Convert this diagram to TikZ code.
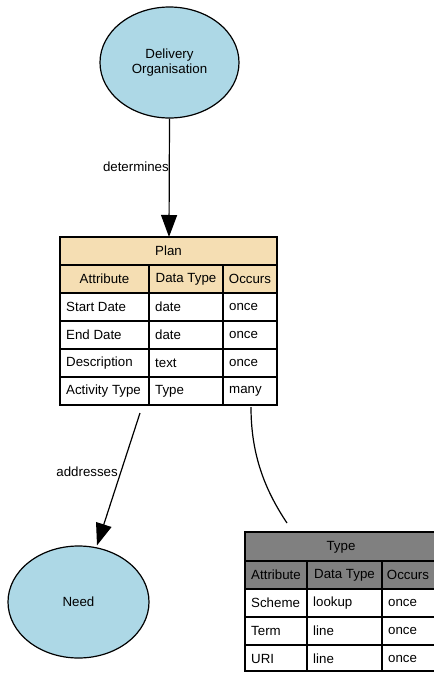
\documentclass[tikz,border=0pt]{standalone}
\usepackage{fontspec}
\setmainfont{Liberation Sans}
\usetikzlibrary{arrows.meta,shapes.geometric}
\definecolor{ellblue}{RGB}{173,216,230}
\definecolor{wheatc}{RGB}{245,222,179}
\definecolor{greyc}{RGB}{128,128,128}
\begin{document}
\begin{tikzpicture}[x=1pt,y=-1pt,
  every node/.style={font=\fontsize{13.3}{15}\selectfont, inner sep=0pt},
  ent/.style={ellipse, draw, line width=1.2pt, fill=ellblue, align=center},
  cellbox/.style={draw, line width=1.1pt},
  lt/.style={anchor=west},
  ct/.style={anchor=center},
  rel/.style={line width=1.2pt, -{Triangle[length=22pt,width=16pt]}},
  lbl/.style={anchor=east}
]
\useasboundingbox (0,0) rectangle (434,673);
\clip (0,0) rectangle (434,673);

% Delivery Organisation
\node[ent, minimum width=139pt, minimum height=111pt] (org) at (169.5,62.5) {Delivery\\Organisation};
% Need
\node[ent, minimum width=141pt, minimum height=112pt] (need) at (78.5,602) {Need};

% Plan table
\fill[wheatc] (60,237) rectangle (277,293);
\draw[cellbox] (60,237) rectangle (277,405);
\foreach \yy in {265,293,321,349,377} \draw[cellbox] (60,\yy) -- (277,\yy);
\draw[cellbox] (149,265) -- (149,405);
\draw[cellbox] (223,265) -- (223,405);
\node[ct] (plantitle) at (168.5,251) {Plan};
\node[ct] (ph1) at (104.5,279) {Attribute};
\node[ct] (ph2) at (186,279) {Data Type};
\node[ct] (ph3) at (250,279) {Occurs};
\node[lt] (p11) at (66,307) {Start Date};
\node[lt] (p12) at (155,307) {date};
\node[lt] (p13) at (229,307) {once};
\node[lt] (p21) at (66,335) {End Date};
\node[lt] (p22) at (155,335) {date};
\node[lt] (p23) at (229,335) {once};
\node[lt] (p31) at (66,363) {Description};
\node[lt] (p32) at (155,363) {text};
\node[lt] (p33) at (229,363) {once};
\node[lt] (p41) at (66,391) {Activity Type};
\node[lt] (p42) at (155,391) {Type};
\node[lt] (p43) at (229,391) {many};
\coordinate (plantop) at (169,237);
\coordinate (planA) at (140,413);
\coordinate (planB) at (251,407);

% Type table
\fill[greyc] (245,532) rectangle (437,589);
\draw[cellbox] (245,532) rectangle (437,671);
\foreach \yy in {561,589,617,645} \draw[cellbox] (245,\yy) -- (437,\yy);
\draw[cellbox] (307,561) -- (307,671);
\draw[cellbox] (382,561) -- (382,671);
\node[ct] (typetitle) at (341,547) {Type};
\node[ct] (th1) at (276,575) {Attribute};
\node[ct] (th2) at (344.5,575) {Data Type};
\node[ct] (th3) at (408,575) {Occurs};
\node[lt] (t11) at (251,603) {Scheme};
\node[lt] (t12) at (313,603) {lookup};
\node[lt] (t13) at (388,603) {once};
\node[lt] (t21) at (251,631) {Term};
\node[lt] (t22) at (313,631) {line};
\node[lt] (t23) at (388,631) {once};
\node[lt] (t31) at (251,659) {URI};
\node[lt] (t32) at (313,659) {line};
\node[lt] (t33) at (388,659) {once};
\coordinate (typeTop) at (287,523);

% connectors
\draw[rel] (org.south) -- (plantop);
\node[lbl] (detl) at (169,167) {determines};
\draw[rel] (planA) -- (need.north -| 97,546);
\node[lbl] (addl) at (118,472) {addresses};
\draw[line width=1.2pt] (planB) .. controls (251,455) and (265,490) .. (typeTop);
\end{tikzpicture}
\end{document}
